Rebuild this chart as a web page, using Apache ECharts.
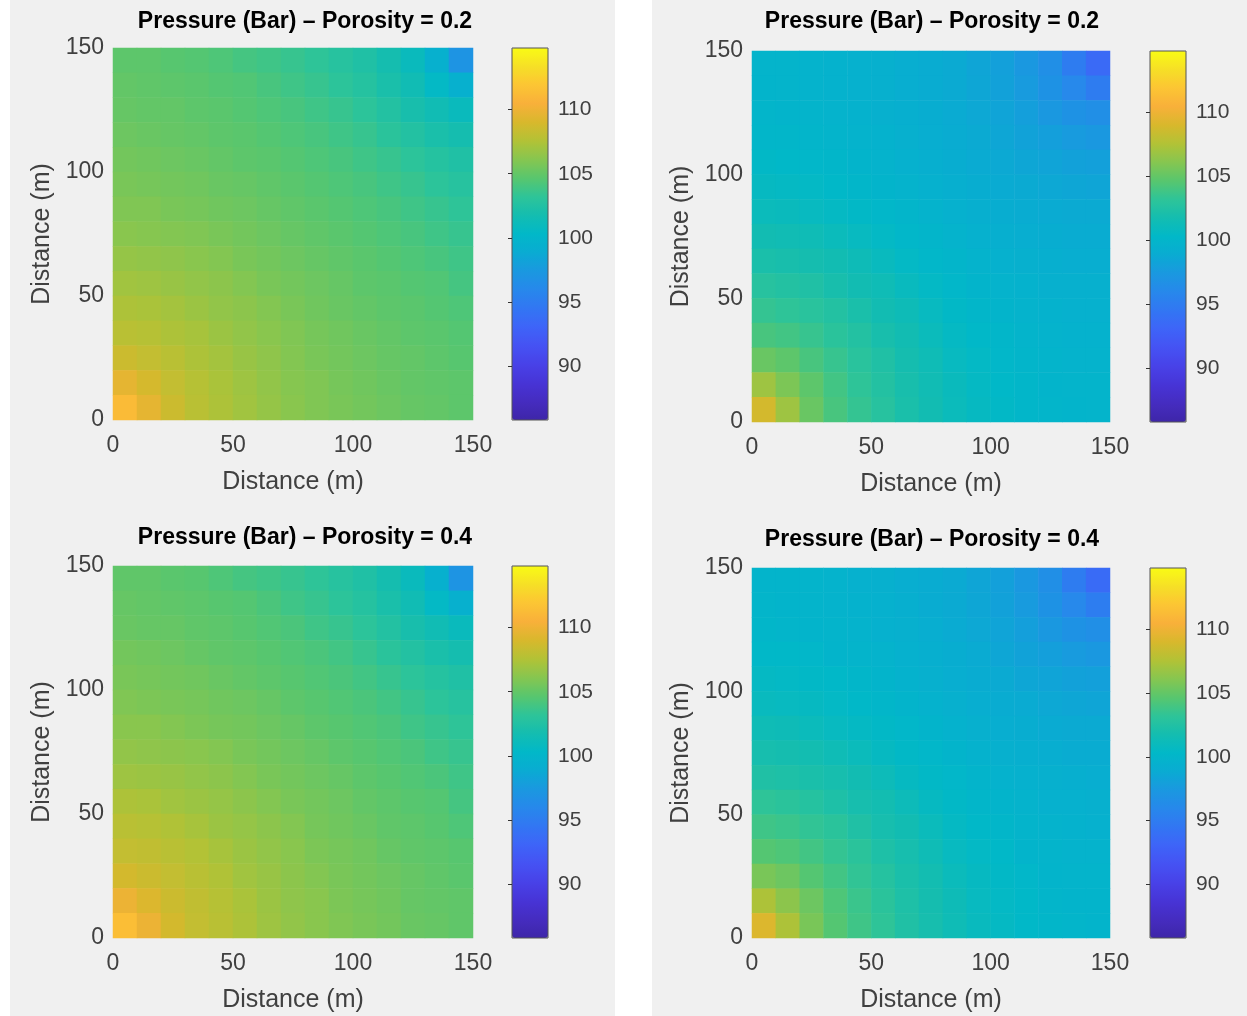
<!DOCTYPE html>
<html>
<head>
<meta charset="utf-8">
<script src="https://cdn.jsdelivr.net/npm/echarts@6/dist/echarts.min.js"></script>
<style>html,body{margin:0;padding:0;background:#fff;}#c{width:1247px;height:1016px;}</style>
</head>
<body>
<div id="c"></div>
<script>
// ---- data ----
const cellCenters = [5, 15, 25, 35, 45, 55, 65, 75, 85, 95, 105, 115, 125, 135, 145];
const titles = [
  'Pressure (Bar) – Porosity = 0.2',
  'Pressure (Bar) – Porosity = 0.2',
  'Pressure (Bar) – Porosity = 0.4',
  'Pressure (Bar) – Porosity = 0.4'
];
const axisTicks = [0, 50, 100, 150];
const colorbarTicks = [90, 95, 100, 105, 110];
const colorMin = 85.8, colorMax = 114.8;

// rows listed from top (y = 145 m) to bottom (y = 5 m); columns x = 5 ... 145 m
const pressureA = [ // porosity 0.2, left
  [104.8, 104.8, 104.6, 104.5, 104.3, 104.0, 103.8, 103.5, 103.2, 102.8, 102.4, 101.8, 101.0, 99.4, 97.0],
  [105.0, 104.9, 104.8, 104.7, 104.5, 104.4, 104.1, 103.8, 103.5, 103.1, 102.7, 102.1, 101.5, 100.5, 99.4],
  [105.1, 105.0, 105.0, 104.8, 104.7, 104.5, 104.3, 104.1, 103.8, 103.5, 103.1, 102.6, 102.0, 101.5, 101.0],
  [105.3, 105.2, 105.1, 105.0, 104.8, 104.7, 104.5, 104.3, 104.1, 103.8, 103.5, 103.0, 102.6, 102.1, 101.8],
  [105.5, 105.4, 105.3, 105.2, 105.0, 104.8, 104.7, 104.5, 104.3, 104.1, 103.8, 103.5, 103.1, 102.7, 102.4],
  [105.7, 105.6, 105.5, 105.4, 105.2, 105.1, 104.9, 104.7, 104.5, 104.3, 104.1, 103.8, 103.5, 103.1, 102.8],
  [105.9, 105.9, 105.7, 105.6, 105.4, 105.3, 105.1, 104.9, 104.7, 104.5, 104.3, 104.1, 103.8, 103.5, 103.2],
  [106.2, 106.1, 106.0, 105.9, 105.7, 105.5, 105.3, 105.1, 104.9, 104.7, 104.5, 104.3, 104.1, 103.8, 103.5],
  [106.6, 106.5, 106.4, 106.2, 106.0, 105.7, 105.5, 105.3, 105.1, 104.9, 104.7, 104.5, 104.3, 104.1, 103.8],
  [107.0, 106.9, 106.7, 106.5, 106.3, 106.0, 105.7, 105.5, 105.3, 105.1, 104.8, 104.7, 104.5, 104.4, 104.0],
  [107.4, 107.3, 107.1, 106.8, 106.5, 106.3, 106.0, 105.7, 105.4, 105.2, 105.0, 104.8, 104.7, 104.5, 104.3],
  [107.8, 107.7, 107.4, 107.2, 106.8, 106.5, 106.2, 105.9, 105.6, 105.4, 105.2, 105.0, 104.8, 104.7, 104.5],
  [108.5, 108.2, 107.8, 107.4, 107.1, 106.7, 106.4, 106.0, 105.7, 105.5, 105.3, 105.1, 105.0, 104.8, 104.6],
  [109.6, 108.9, 108.2, 107.7, 107.3, 106.9, 106.5, 106.1, 105.9, 105.6, 105.4, 105.2, 105.0, 104.9, 104.8],
  [111.2, 109.6, 108.5, 107.8, 107.4, 107.0, 106.6, 106.2, 105.9, 105.7, 105.5, 105.3, 105.1, 105.0, 104.8]
];
const pressureB = [ // porosity 0.2, right
  [99.8, 99.8, 99.7, 99.6, 99.5, 99.4, 99.2, 99.0, 98.8, 98.4, 98.0, 97.4, 96.6, 95.0, 93.5],
  [99.9, 99.8, 99.7, 99.6, 99.5, 99.4, 99.2, 99.0, 98.8, 98.5, 98.1, 97.6, 96.9, 96.0, 95.0],
  [100.0, 99.9, 99.8, 99.7, 99.6, 99.4, 99.3, 99.1, 98.9, 98.6, 98.3, 97.9, 97.4, 96.9, 96.6],
  [100.1, 100.1, 100.0, 99.8, 99.7, 99.6, 99.4, 99.2, 99.0, 98.8, 98.5, 98.2, 97.9, 97.6, 97.4],
  [100.4, 100.3, 100.2, 100.1, 99.9, 99.7, 99.5, 99.3, 99.1, 98.9, 98.7, 98.5, 98.3, 98.1, 98.0],
  [100.7, 100.6, 100.5, 100.3, 100.1, 99.9, 99.7, 99.5, 99.3, 99.1, 98.9, 98.8, 98.6, 98.5, 98.4],
  [101.1, 101.0, 100.8, 100.6, 100.4, 100.2, 100.0, 99.7, 99.5, 99.3, 99.1, 99.0, 98.9, 98.8, 98.8],
  [101.6, 101.5, 101.4, 101.1, 100.8, 100.5, 100.2, 100.0, 99.7, 99.5, 99.3, 99.2, 99.1, 99.0, 99.0],
  [102.1, 102.0, 101.8, 101.6, 101.3, 100.9, 100.5, 100.2, 100.0, 99.7, 99.5, 99.4, 99.3, 99.2, 99.2],
  [102.8, 102.6, 102.4, 102.0, 101.6, 101.4, 100.9, 100.5, 100.2, 99.9, 99.7, 99.6, 99.4, 99.4, 99.4],
  [103.4, 103.2, 102.9, 102.6, 102.1, 101.6, 101.3, 100.8, 100.4, 100.1, 99.9, 99.7, 99.6, 99.5, 99.5],
  [104.1, 103.9, 103.5, 103.0, 102.6, 102.0, 101.6, 101.1, 100.6, 100.3, 100.1, 99.8, 99.7, 99.6, 99.6],
  [105.2, 104.8, 104.1, 103.5, 102.9, 102.4, 101.8, 101.4, 100.8, 100.5, 100.2, 100.0, 99.8, 99.7, 99.7],
  [106.9, 105.8, 104.8, 103.9, 103.2, 102.6, 102.0, 101.5, 101.0, 100.6, 100.3, 100.1, 99.9, 99.8, 99.8],
  [108.8, 106.9, 105.2, 104.1, 103.4, 102.8, 102.1, 101.6, 101.1, 100.7, 100.4, 100.1, 100.0, 99.9, 99.8]
];
const pressureC = [ // porosity 0.4, left
  [104.9, 104.9, 104.7, 104.6, 104.3, 104.0, 103.8, 103.5, 103.2, 102.8, 102.4, 101.8, 101.0, 99.4, 97.0],
  [105.1, 105.0, 104.9, 104.8, 104.6, 104.5, 104.2, 103.8, 103.5, 103.1, 102.7, 102.1, 101.5, 100.5, 99.4],
  [105.2, 105.1, 105.1, 104.9, 104.8, 104.6, 104.4, 104.2, 103.8, 103.5, 103.1, 102.6, 102.0, 101.5, 101.0],
  [105.5, 105.4, 105.3, 105.1, 104.9, 104.8, 104.6, 104.4, 104.2, 103.9, 103.5, 103.0, 102.6, 102.1, 101.8],
  [105.7, 105.6, 105.5, 105.4, 105.2, 105.0, 104.8, 104.6, 104.4, 104.2, 103.9, 103.5, 103.1, 102.7, 102.4],
  [105.9, 105.8, 105.7, 105.6, 105.4, 105.3, 105.1, 104.8, 104.6, 104.4, 104.2, 103.9, 103.5, 103.1, 102.8],
  [106.2, 106.2, 106.0, 105.8, 105.6, 105.5, 105.3, 105.1, 104.8, 104.6, 104.4, 104.2, 103.8, 103.5, 103.2],
  [106.5, 106.4, 106.3, 106.2, 106.0, 105.7, 105.5, 105.3, 105.1, 104.8, 104.6, 104.4, 104.2, 103.8, 103.5],
  [106.9, 106.8, 106.7, 106.5, 106.3, 106.0, 105.7, 105.5, 105.3, 105.1, 104.8, 104.6, 104.4, 104.2, 103.8],
  [107.4, 107.3, 107.0, 106.8, 106.6, 106.3, 106.0, 105.7, 105.5, 105.3, 105.0, 104.8, 104.6, 104.5, 104.0],
  [107.8, 107.7, 107.5, 107.2, 106.8, 106.6, 106.3, 106.0, 105.6, 105.4, 105.2, 104.9, 104.8, 104.6, 104.3],
  [108.2, 108.1, 107.8, 107.6, 107.2, 106.8, 106.5, 106.2, 105.8, 105.6, 105.4, 105.1, 104.9, 104.8, 104.6],
  [108.8, 108.5, 108.2, 107.8, 107.5, 107.0, 106.7, 106.3, 106.0, 105.7, 105.5, 105.3, 105.1, 104.9, 104.7],
  [109.9, 109.2, 108.5, 108.1, 107.7, 107.3, 106.8, 106.4, 106.2, 105.8, 105.6, 105.4, 105.1, 105.0, 104.9],
  [111.4, 109.9, 108.8, 108.2, 107.8, 107.4, 106.9, 106.5, 106.2, 105.9, 105.7, 105.5, 105.2, 105.1, 104.9]
];
const pressureD = [ // porosity 0.4, right
  [99.9, 99.9, 99.8, 99.7, 99.5, 99.4, 99.2, 99.0, 98.8, 98.4, 98.0, 97.4, 96.6, 95.0, 93.6],
  [100.0, 99.9, 99.8, 99.7, 99.6, 99.5, 99.3, 99.0, 98.8, 98.5, 98.1, 97.6, 96.9, 96.0, 95.1],
  [100.1, 100.0, 99.9, 99.8, 99.7, 99.5, 99.4, 99.2, 98.9, 98.6, 98.3, 97.9, 97.4, 96.9, 96.6],
  [100.3, 100.3, 100.2, 99.9, 99.8, 99.7, 99.5, 99.3, 99.1, 98.9, 98.5, 98.2, 97.9, 97.6, 97.4],
  [100.6, 100.5, 100.4, 100.3, 100.1, 99.9, 99.6, 99.4, 99.2, 99.0, 98.8, 98.5, 98.3, 98.1, 98.0],
  [100.9, 100.8, 100.7, 100.5, 100.3, 100.1, 99.9, 99.6, 99.4, 99.2, 99.0, 98.9, 98.6, 98.5, 98.4],
  [101.4, 101.3, 101.1, 100.8, 100.6, 100.4, 100.2, 99.9, 99.6, 99.4, 99.2, 99.1, 98.9, 98.8, 98.8],
  [101.9, 101.8, 101.7, 101.4, 101.1, 100.7, 100.4, 100.2, 99.9, 99.6, 99.4, 99.3, 99.2, 99.0, 99.0],
  [102.4, 102.3, 102.1, 101.9, 101.6, 101.2, 100.7, 100.4, 100.2, 99.9, 99.6, 99.5, 99.4, 99.3, 99.2],
  [103.2, 103.0, 102.7, 102.3, 101.9, 101.7, 101.2, 100.7, 100.4, 100.1, 99.9, 99.7, 99.5, 99.5, 99.4],
  [103.8, 103.6, 103.3, 103.0, 102.4, 101.9, 101.6, 101.1, 100.6, 100.3, 100.1, 99.8, 99.7, 99.6, 99.5],
  [104.5, 104.3, 103.9, 103.4, 103.0, 102.3, 101.9, 101.4, 100.8, 100.5, 100.3, 99.9, 99.8, 99.7, 99.7],
  [105.7, 105.3, 104.5, 103.9, 103.3, 102.7, 102.1, 101.7, 101.1, 100.7, 100.4, 100.2, 99.9, 99.8, 99.8],
  [107.4, 106.3, 105.3, 104.3, 103.6, 103.0, 102.3, 101.8, 101.3, 100.8, 100.5, 100.3, 100.0, 99.9, 99.9],
  [109.2, 107.4, 105.7, 104.5, 103.8, 103.2, 102.4, 101.9, 101.4, 100.9, 100.6, 100.3, 100.1, 100.0, 99.9]
];
// parula-like colour scale, evenly spaced from colorMin to colorMax
const parula = ['#3e26a8', '#452cc0', '#4734d6', '#4842e8', '#4552f3', '#3e64f8', '#3276f3',
                '#2788eb', '#1a98e0', '#0aabd2', '#01b8c8', '#14bdb0', '#2ec498', '#58c66e',
                '#86c650', '#b2c236', '#d8b82c', '#f8b03a', '#fcc534', '#f6df26', '#f9fb15'];

// ---- layout ----
const panels = [
  { field: pressureA, plot: [113, 48, 360, 372], bar: [512, 48, 36, 372], title: [305, 22] },
  { field: pressureB, plot: [752, 51, 358, 371], bar: [1150, 51, 36, 371], title: [932, 22] },
  { field: pressureC, plot: [113, 566, 360, 372], bar: [512, 566, 36, 372], title: [305, 538] },
  { field: pressureD, plot: [752, 568, 358, 370], bar: [1150, 568, 36, 370], title: [932, 540] }
];

const FONT = "'Liberation Sans', Arial, Helvetica, sans-serif";
const TXT = '#404040';

const grid = [], xAxis = [], yAxis = [], series = [], visualMap = [];
const graphic = [
  { type: 'rect', z: -100, shape: { x: 10, y: 0, width: 605, height: 1016 }, style: { fill: '#f0f0f0' } },
  { type: 'rect', z: -100, shape: { x: 652, y: 0, width: 595, height: 1016 }, style: { fill: '#f0f0f0' } }
];

panels.forEach((p, i) => {
  grid.push({ left: p.plot[0], top: p.plot[1], width: p.plot[2], height: p.plot[3],
              containLabel: false, outerBoundsMode: 'none' });
  xAxis.push({ type: 'category', gridIndex: i, position: 'top', show: false,
               data: cellCenters.map(String) });
  yAxis.push({ type: 'category', gridIndex: i, position: 'right', show: false,
               data: cellCenters.map(String) });
  xAxis.push({ type: 'value', gridIndex: i, position: 'bottom', min: axisTicks[0], max: axisTicks[axisTicks.length - 1], interval: 50,
               axisLine: { show: false }, axisTick: { show: false }, splitLine: { show: false },
               axisLabel: { fontSize: 23, color: TXT, fontFamily: FONT, margin: 14 },
               name: 'Distance (m)', nameLocation: 'middle', nameGap: 50,
               nameTextStyle: { fontSize: 25, color: TXT, fontFamily: FONT } });
  yAxis.push({ type: 'value', gridIndex: i, position: 'left', min: axisTicks[0], max: axisTicks[axisTicks.length - 1], interval: 50,
               axisLine: { show: false }, axisTick: { show: false }, splitLine: { show: false },
               axisLabel: { fontSize: 23, color: TXT, fontFamily: FONT, margin: 9 },
               name: 'Distance (m)', nameLocation: 'middle', nameGap: 58,
               nameTextStyle: { fontSize: 25, color: TXT, fontFamily: FONT } });
  const data = [];
  p.field.forEach((row, r) => row.forEach((v, c) => data.push([c, p.field.length - 1 - r, v])));
  series.push({ type: 'heatmap', xAxisIndex: 2 * i, yAxisIndex: 2 * i, data: data,
                itemStyle: { borderWidth: 0 }, emphasis: { disabled: true }, silent: true });
  visualMap.push({ type: 'continuous', seriesIndex: i, min: colorMin, max: colorMax,
                   calculable: false, hoverLink: false, padding: 0,
                   left: p.bar[0], top: p.bar[1], itemWidth: p.bar[2], itemHeight: p.bar[3],
                   inRange: { color: parula }, text: null });
  graphic.push({ type: 'text', x: p.title[0], y: p.title[1], z: 50,
                 style: { text: titles[i], fill: '#000', font: 'bold 23px ' + FONT,
                          textAlign: 'center', textVerticalAlign: 'middle' } });
});

panels.forEach((p, i) => {
  const gi = panels.length + i;
  grid.push({ left: p.bar[0], top: p.bar[1], width: p.bar[2], height: p.bar[3], show: true,
              borderColor: '#555', borderWidth: 1, backgroundColor: 'transparent', z: 10,
              containLabel: false, outerBoundsMode: 'none' });
  xAxis.push({ type: 'value', gridIndex: gi, show: false, min: 0, max: 1 });
  yAxis.push({ type: 'value', gridIndex: gi, position: 'right', min: colorMin, max: colorMax, z: 10,
               axisLine: { show: false }, splitLine: { show: false },
               axisTick: { show: true, inside: true, length: 4, customValues: colorbarTicks,
                           lineStyle: { color: '#333' } },
               axisLabel: { fontSize: 21, color: TXT, fontFamily: FONT, margin: 10,
                            customValues: colorbarTicks } });
});

const chart = echarts.init(document.getElementById('c'));
chart.setOption({ backgroundColor: '#ffffff', animation: false,
                  grid, xAxis, yAxis, series, visualMap, graphic });
</script>
</body>
</html>
